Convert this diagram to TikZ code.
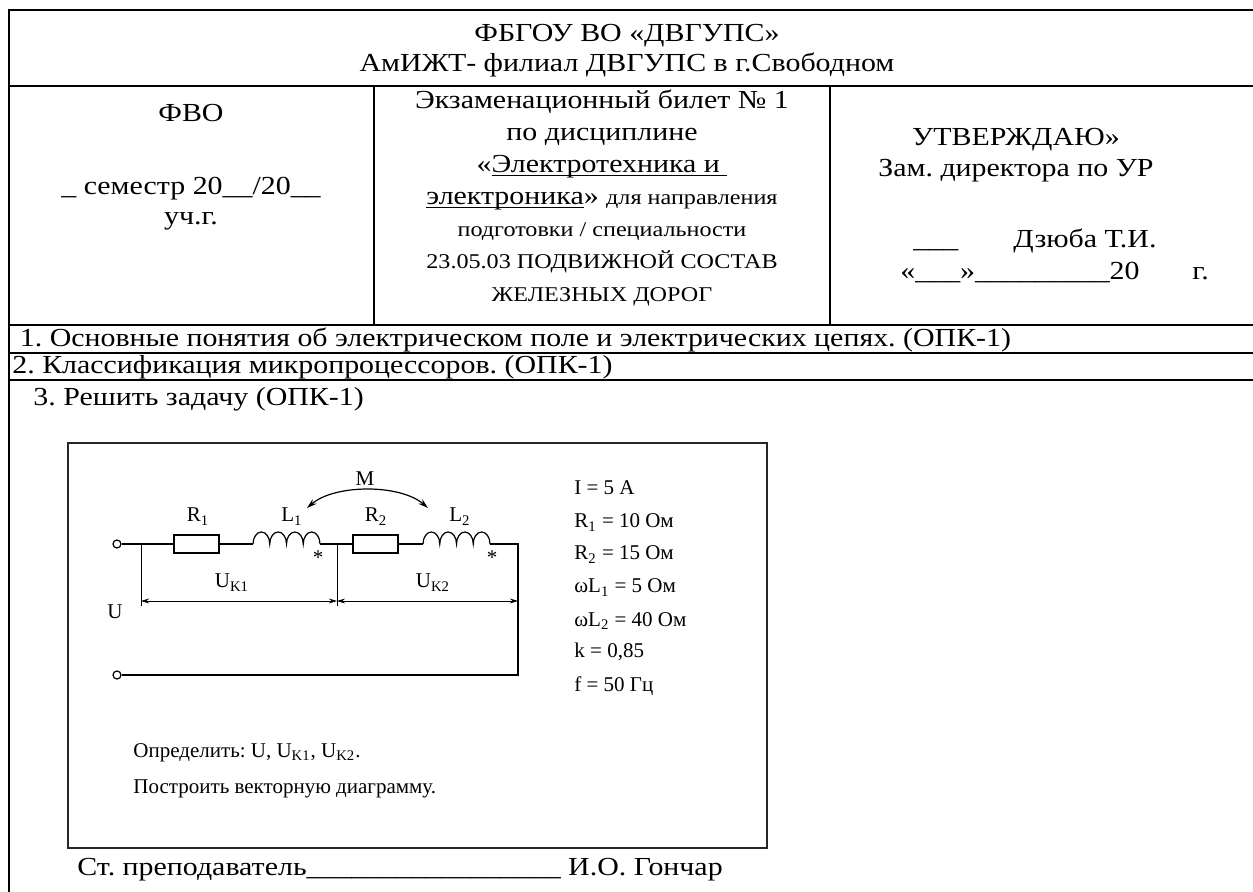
\documentclass[tikz,border=0pt]{standalone}
\usepackage{fontspec}
\setmainfont{Liberation Serif}[FakeStretch=1.15]
\newfontfamily\cfont{Liberation Serif}
\usetikzlibrary{arrows.meta}
\frenchspacing
\newcommand\ulx[1]{\setbox0\hbox{#1}\rlap{\rule[-2pt]{\wd0}{0.6pt}}\box0}
\begin{document}
\begin{tikzpicture}[x=0.5pt,y=-0.5pt,
  tab/.style={line width=0.9pt},
  txt/.style={inner sep=0pt, font=\rmfamily\fontsize{13}{15}\selectfont, text height=9pt, text depth=2.6pt},
  sml/.style={inner sep=0pt, font=\rmfamily\fontsize{10.5}{12}\selectfont, text height=7.3pt, text depth=2.1pt},
  ctx/.style={inner sep=0pt, font=\cfont\fontsize{10.5}{12}\selectfont, text height=7.5pt, text depth=2.5pt},
  wire/.style={line width=0.6pt, line join=miter},
  res/.style={draw, line width=0.6pt, minimum width=22.5pt, minimum height=9pt, inner sep=0pt},
  term/.style={circle, draw, line width=0.6pt, fill=white, minimum size=4pt, inner sep=0pt},
  dimline/.style={line width=0.4pt, {Stealth[length=4pt,width=2.4pt]}-{Stealth[length=4pt,width=2.4pt]}},
  coil/.style={wire},
]
\useasboundingbox (0,0) rectangle (1253,892);
% ---------- table ----------
\draw[tab] (1253,10) -- (9,10) -- (9,892);
\draw[tab] (9,86) -- (1253,86);
\draw[tab] (374,86) -- (374,325);
\draw[tab] (830,86) -- (830,325);
\draw[tab] (9,325) -- (1253,325);
\draw[tab] (9,353) -- (1253,353);
\draw[tab] (9,380) -- (1253,380);
% header
\node[txt] (h1) at (627,35) {ФБГОУ ВО «ДВГУПС»};
\node[txt] (h2) at (627,65) {АмИЖТ- филиал ДВГУПС в г.Свободном};
% column 1
\node[txt] (c1a) at (191,115) {ФВО};
\node[txt] (c1b) at (191,188) {\_ семестр 20\_\_/20\_\_};
\node[txt] (c1c) at (191,218) {уч.г.};
% column 2
\node[txt] (e1) at (602,102) {Экзаменационный билет № 1};
\node[txt] (e2) at (602,134) {по дисциплине};
\node[txt] (e3) at (602,166) {«\ulx{Электротехника и }};
\node[txt] (e4) at (602,198) {\ulx{электроника}» {\fontsize{10.5}{12}\selectfont для направления}};
\node[sml] (e5) at (602,231) {подготовки / специальности};
\node[sml] (e6) at (602,263) {23.05.03 ПОДВИЖНОЙ СОСТАВ};
\node[sml] (e7) at (602,296) {ЖЕЛЕЗНЫХ ДОРОГ};
% column 3
\node[txt] (u1) at (1016,139) {УТВЕРЖДАЮ»};
\node[txt] (u2) at (1016,170) {Зам. директора по УР};
\node[txt, anchor=west] (u3) at (913,241) {\_\_\_};
\node[txt, anchor=west] (u4) at (1013,241) {Дзюба Т.И.};
\node[txt, anchor=west] (u5) at (900,273) {«\_\_\_»\_\_\_\_\_\_\_\_\_20};
\node[txt, anchor=west] (u6) at (1192,273) {г.};
% rows
\node[txt, anchor=west] (q1) at (12,340) {\ 1. Основные понятия об электрическом поле и электрических цепях. (ОПК-1)};
\node[txt, anchor=west] (q2) at (12,367) {2. Классификация микропроцессоров. (ОПК-1)};
\node[txt, anchor=west] (q3) at (33,399) {3. Решить задачу (ОПК-1)};
\node[txt, anchor=west] (sig) at (77,869) {Ст. преподаватель\_\_\_\_\_\_\_\_\_\_\_\_\_\_\_\_\_ И.О. Гончар};
% ---------- problem picture ----------
\draw[line width=0.8pt, black!85] (68,443) rectangle (767,848);
% circuit elements
\node[term] (tA) at (117,544) {};
\node[term] (tB) at (117,675) {};
\node[res] (r1) at (196.5,544) {};
\node[res] (r2) at (375.5,544) {};
\coordinate (l1a) at (253,544);
\coordinate (l1b) at (320,544);
\coordinate (l2a) at (423,544);
\coordinate (l2b) at (490,544);
\coordinate (ta) at (141,544);
\coordinate (tad) at (141,606);
\coordinate (jm) at (337,544);
\coordinate (jmd) at (337,606);
\coordinate (rc) at (518,544);
\coordinate (rb) at (518,675);
\coordinate (d1) at (141,601);
\coordinate (d2) at (337,601);
\coordinate (d3) at (518,601);
\coordinate (m1) at (307,508);
\coordinate (m2) at (428,508);
% wires
\draw[wire] (tA) -- (r1);
\draw[wire] (r1) -- (l1a);
\draw[coil] (l1a) arc[start angle=180,end angle=360,x radius=8.375,y radius=12]
  arc[start angle=180,end angle=360,x radius=8.375,y radius=12]
  arc[start angle=180,end angle=360,x radius=8.375,y radius=12]
  arc[start angle=180,end angle=360,x radius=8.375,y radius=12];
\draw[wire] (l1b) -- (r2);
\draw[wire] (r2) -- (l2a);
\draw[coil] (l2a) arc[start angle=180,end angle=360,x radius=8.375,y radius=12]
  arc[start angle=180,end angle=360,x radius=8.375,y radius=12]
  arc[start angle=180,end angle=360,x radius=8.375,y radius=12]
  arc[start angle=180,end angle=360,x radius=8.375,y radius=12];
\draw[wire] (l2b) -- (rc) -- (rb) -- (tB);
\draw[line width=0.4pt] (ta) -- (tad);
\draw[line width=0.4pt] (jm) -- (jmd);
\draw[dimline] (d1) -- (d2);
\draw[dimline] (d2) -- (d3);
\draw[line width=0.6pt, {Stealth[length=5pt,width=3pt]}-{Stealth[length=5pt,width=3pt]}] (m1) .. controls (335,484) and (400,484) .. (m2);
% circuit labels
\node[ctx] (lr1) at (198,517) {R\textsubscript{1}};
\node[ctx] (ll1) at (292,517) {L\textsubscript{1}};
\node[ctx] (lr2) at (376,517) {R\textsubscript{2}};
\node[ctx] (ll2) at (460,517) {L\textsubscript{2}};
\node[ctx] (lm) at (365,481) {M};
\node[ctx] (s1) at (318,560) {*};
\node[ctx] (s2) at (492,560) {*};
\node[ctx] (lu1) at (232,583) {U\textsubscript{K1}};
\node[ctx] (lu2) at (433,583) {U\textsubscript{K2}};
\node[ctx] (lu) at (115,613) {U};
% data
\node[ctx, anchor=west] (p1) at (574,490) {I = 5 A};
\node[ctx, anchor=west] (p2) at (574,523) {R\textsubscript{1} = 10 Ом};
\node[ctx, anchor=west] (p3) at (574,555) {R\textsubscript{2} = 15 Ом};
\node[ctx, anchor=west] (p4) at (574,588) {ωL\textsubscript{1} = 5 Ом};
\node[ctx, anchor=west] (p5) at (574,621) {ωL\textsubscript{2} = 40 Ом};
\node[ctx, anchor=west] (p6) at (574,653) {k = 0,85};
\node[ctx, anchor=west] (p7) at (574,686) {f = 50 Гц};
\node[ctx, anchor=west] (o1) at (133,752) {Определить: U, U\textsubscript{K1}, U\textsubscript{K2}.};
\node[ctx, anchor=west] (o2) at (133,788) {Построить векторную диаграмму.};
\end{tikzpicture}
\end{document}
